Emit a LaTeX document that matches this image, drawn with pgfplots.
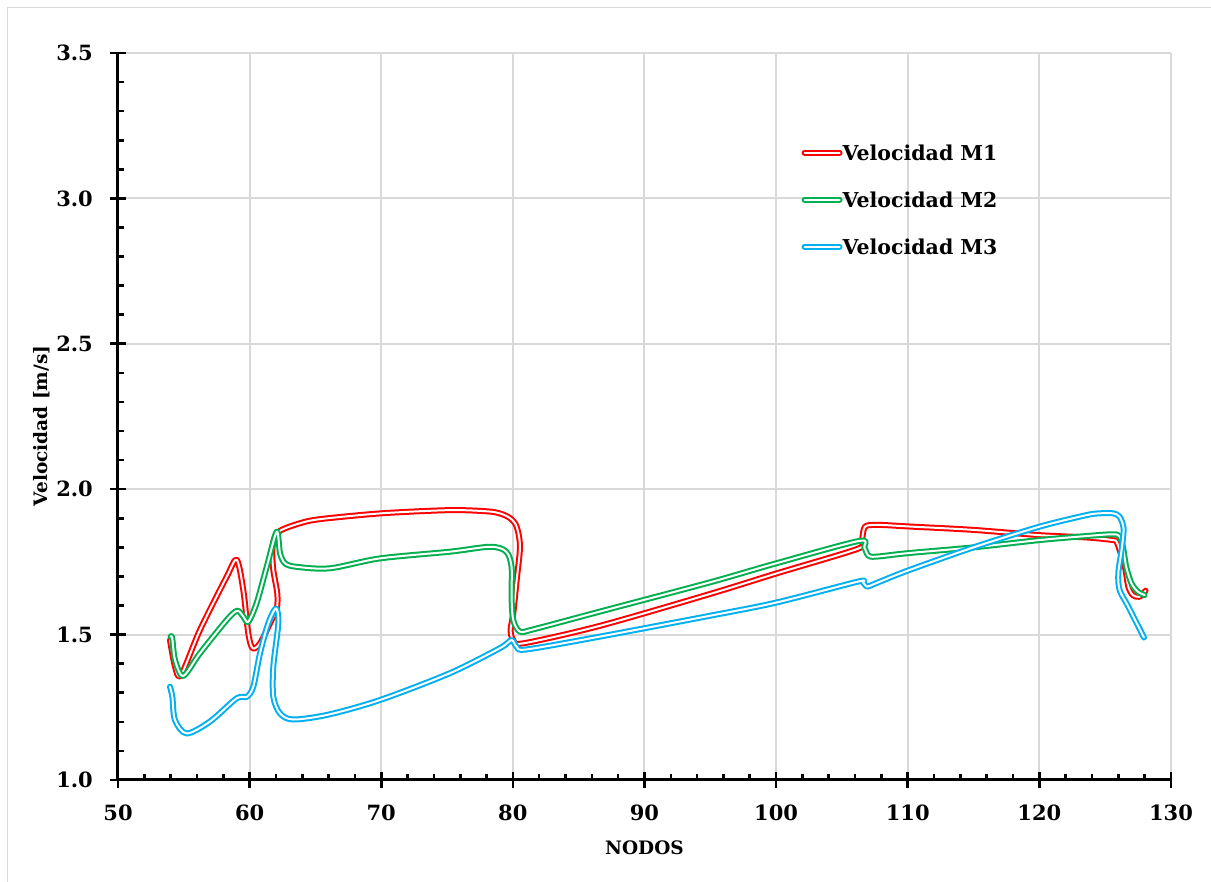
\documentclass[border=0pt]{standalone}
\usepackage{pgfplots}
\pgfplotsset{compat=1.18}
\usepackage{fontspec}
\setmainfont{DejaVu Serif}
\newcommand\tickfont{\bfseries\fontsize{21}{25}\selectfont}
\newcommand\labfont{\bfseries\fontsize{18.5}{22}\selectfont}
\newcommand\legfont{\bfseries\fontsize{20.5}{24}\selectfont}
\definecolor{mred}{HTML}{FF0000}
\definecolor{mgreen}{HTML}{00B050}
\definecolor{mblue}{HTML}{00B0F0}
\definecolor{gridc}{HTML}{D9D9D9}
\begin{document}
\begin{tikzpicture}[x=1pt,y=1pt]
\useasboundingbox (0,0) rectangle (1211,882);
\draw[gridc, line width=1.5pt] (7.5,0) -- (7.5,874.5) -- (1211,874.5);
\begin{axis}[
  at={(118pt,102pt)}, anchor=south west,
  scale only axis, width=1053pt, height=727pt,
  xmin=50, xmax=130, ymin=1, ymax=3.5,
  xtick={50,60,...,130}, ytick={1,1.5,...,3.5},
  minor x tick num=4, minor y tick num=4,
  axis x line*=bottom, axis y line*=left,
  axis line style={line width=3pt, black},
  grid=major, major grid style={line width=2pt, color=gridc},
  tick align=inside,
  major tick length=16pt, minor tick length=6pt,
  every tick/.style={black, line width=2.6pt},
  major x tick style={yshift=-8pt},
  major y tick style={xshift=-8pt},
  /pgf/number format/assume math mode=true,
  ticklabel style={font=\tickfont},
  xticklabel style={anchor=north, inner sep=0pt, yshift=-25pt},
  yticklabel style={anchor=east, inner sep=0pt, xshift=-25pt,
     /pgf/number format/.cd, fixed, fixed zerofill, precision=1},
  xlabel={NODOS}, ylabel={Velocidad [m/s]},
  label style={font=\labfont},
  xlabel style={at={(axis description cs:0.5,-0.0935)}, anchor=center},
  ylabel style={at={(axis description cs:-0.0722,0.487)}, anchor=center},
  legend style={at={(axis description cs:0.649,0.8735)}, anchor=north west,
     draw=none, fill=none, font=\legfont, inner sep=0pt,
     /tikz/row sep=32pt,
     nodes={inner sep=0pt, text height=15pt, text depth=0pt},
     /tikz/every even column/.append style={column sep=2pt}},
  legend cell align=left,
  legend image code/.code={\draw[#1] (0pt,0pt) -- (35pt,0pt);},
  every axis plot/.append style={smooth, tension=0.5, line width=2pt, double=white, double distance=2pt, line cap=round, line join=round},
]
\addplot[mred] coordinates {
(53.95,1.481) (54.33,1.390) (54.79,1.361) (56.23,1.516) (58.26,1.699)
(59.02,1.757) (59.52,1.653) (59.90,1.504) (60.23,1.453) (60.79,1.470)
(61.55,1.539) (62.06,1.590) (62.10,1.642) (61.80,1.722) (61.72,1.791)
(61.93,1.837) (62.43,1.860) (63.83,1.883) (65.35,1.897) (70.0,1.917)
(75.2,1.928) (78.0,1.924) (79.0,1.917) (79.8,1.900) (80.29,1.871)
(80.54,1.802) (80.29,1.688) (80.03,1.573) (79.83,1.516) (80.03,1.481)
(80.80,1.470) (86.6,1.530) (95.0,1.640) (100.0,1.710) (106.2,1.795)
(106.5,1.820) (106.65,1.860) (106.9,1.875) (108.0,1.877) (110.0,1.872)
(115.0,1.860) (120.0,1.842) (123.6,1.834) (125.6,1.825) (125.87,1.819)
(126.1,1.791) (126.5,1.733) (126.76,1.665) (127.1,1.636) (127.6,1.630)
(128.07,1.651)
};
\addlegendentry{Velocidad M1}
\addplot[mgreen] coordinates {
(54.00,1.493) (54.12,1.488) (54.33,1.413) (54.96,1.358) (56.23,1.436)
(58.26,1.550) (59.06,1.582) (59.52,1.562) (59.90,1.544) (60.53,1.608)
(61.30,1.733) (62.06,1.854) (62.31,1.780) (62.69,1.745) (63.57,1.733)
(66.1,1.728) (69.9,1.762) (75.2,1.785) (78.3,1.802) (79.5,1.785)
(79.9,1.733) (79.9,1.630) (80.03,1.550) (80.54,1.510) (81.55,1.518)
(86.6,1.579) (95.0,1.680) (100.0,1.745) (106.3,1.822) (106.7,1.800)
(107.0,1.772) (107.6,1.768) (110.0,1.780) (115.0,1.800) (120.0,1.825)
(123.6,1.839) (125.6,1.845) (126.1,1.837) (126.35,1.802) (126.6,1.733)
(127.0,1.676) (127.5,1.647) (128.0,1.636)
};
\addlegendentry{Velocidad M2}
\addplot[mblue] coordinates {
(53.95,1.321) (54.13,1.286) (54.33,1.206) (55.22,1.160) (56.99,1.201)
(59.02,1.281) (59.78,1.286) (60.28,1.321) (60.79,1.436) (61.42,1.539)
(62.00,1.590) (62.18,1.539) (61.80,1.390) (61.80,1.286) (62.31,1.229)
(63.32,1.208) (66.0,1.225) (69.9,1.275) (75.2,1.367) (79.0,1.453)
(79.9,1.481) (80.29,1.458) (81.05,1.449) (86.6,1.493) (95.0,1.565)
(100.0,1.610) (106.2,1.682) (106.6,1.680) (106.9,1.665) (107.5,1.675)
(110.0,1.720) (115.0,1.800) (120.0,1.871) (123.6,1.911) (124.6,1.917)
(125.6,1.917) (126.1,1.905) (126.4,1.865) (126.25,1.791) (126.0,1.711)
(126.1,1.653) (126.76,1.596) (127.95,1.490)
};
\addlegendentry{Velocidad M3}
\end{axis}
\end{tikzpicture}
\end{document}
